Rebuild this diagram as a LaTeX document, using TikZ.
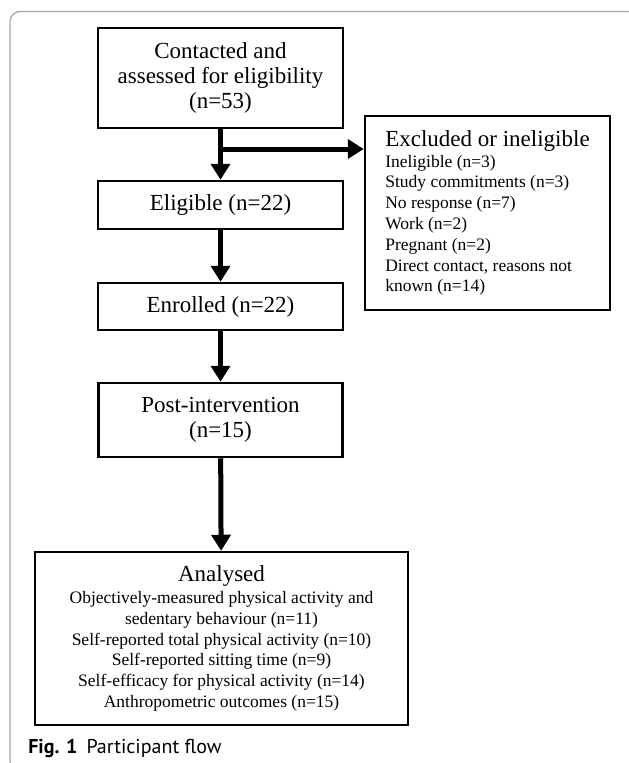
\documentclass[tikz,border=0pt]{standalone}
\usepackage{fontspec}
\setmainfont{Liberation Serif}
\newfontfamily\capfont{PT Sans}
\usetikzlibrary{arrows.meta}

\begin{document}
\begin{tikzpicture}[x=1pt,y=-1pt,line width=2.5pt,>={Triangle[width=19pt,length=16pt]}]
\tikzset{box/.style={draw,line width=2.5pt,inner sep=0pt,align=center,
    font=\fontsize{23}{25}\selectfont},
  small/.style={font=\fontsize{17.5}{20.8}\selectfont},
  flow/.style={line width=5pt,->}}
\useasboundingbox (0,0) rectangle (629,763);
% ================= frame =================
\draw[line width=1.2pt,gray!70,rounded corners=10pt] (10,11.5) rectangle (638,772);
% ================= main column =================
\node[box,minimum width=245pt,minimum height=100pt] (contact) at (220.5,78)
  {Contacted and\\assessed for eligibility\\(n=53)};
\node[box,minimum width=245pt,minimum height=48pt] (elig) at (220.5,205) {Eligible (n=22)};
\node[box,minimum width=245pt,minimum height=47pt] (enrol) at (220.5,306.5) {Enrolled (n=22)};
\node[box,minimum width=244pt,minimum height=74pt] (post) at (220.5,420)
  {Post-intervention\\(n=15)};
\node[box,small,minimum width=373pt,minimum height=173pt] (anal) at (221.5,638.5)
  {{\fontsize{23}{23}\selectfont Analysed}\\[1pt]
   Objectively-measured physical activity and\\
   sedentary behaviour (n=11)\\
   Self-reported total physical activity (n=10)\\
   Self-reported sitting time (n=9)\\
   Self-efficacy for physical activity (n=14)\\
   Anthropometric outcomes (n=15)};
% ================= side box =================
\node[box,small,align=left,minimum width=245pt,minimum height=194pt] (excl) at (487.5,213)
  {{\fontsize{23}{23}\selectfont Excluded or ineligible}\\
   Ineligible (n=3)\\
   Study commitments (n=3)\\
   No response (n=7)\\
   Work (n=2)\\
   Pregnant (n=2)\\
   Direct contact, reasons not\\
   known (n=14)};
% ================= arrows =================
\coordinate (split) at (220.5,149);
\draw[flow] (contact) -- (elig);
\draw[flow] (split) -- (split -| excl.west);
\draw[flow] (elig) -- (enrol);
\draw[flow] (enrol) -- (post);
\draw[flow] (post) -- (anal);
% ---------- caption ----------
\node[anchor=base west,inner sep=0pt,font=\capfont\fontsize{20}{22}\selectfont] (cap) at (27,753)
  {\textbf{Fig. 1}\hspace{9pt}Participant flow};
\end{tikzpicture}
\end{document}
